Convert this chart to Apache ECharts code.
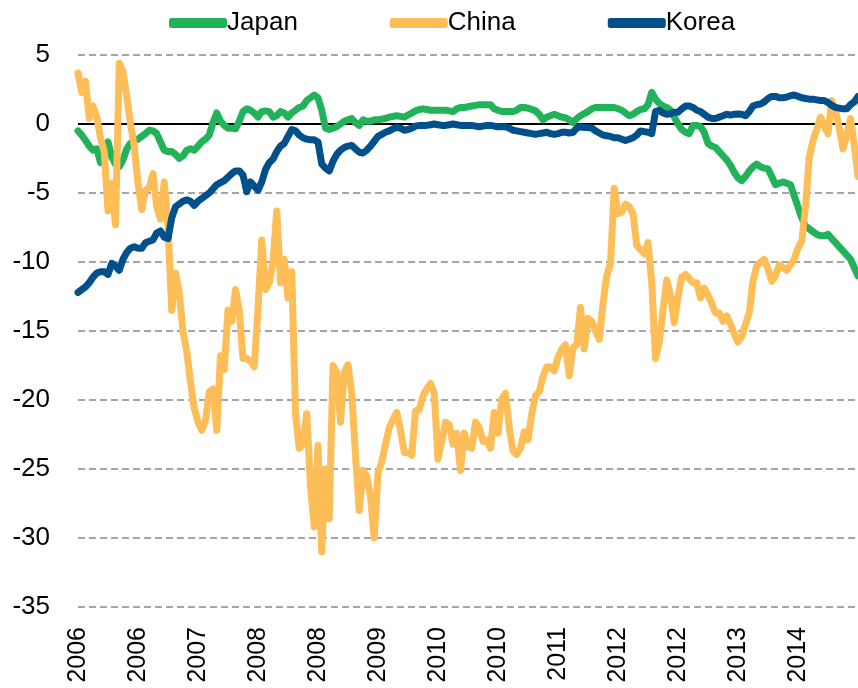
<!DOCTYPE html>
<html>
<head>
<meta charset="utf-8">
<script src="https://cdn.jsdelivr.net/npm/echarts@6/dist/echarts.min.js"></script>
<style>
  html, body { margin: 0; padding: 0; background: #fff; }
  #chart { width: 858px; height: 688px; }
</style>
</head>
<body>
<div id="chart"></div>
<script>
// half-monthly observations, Jan 2006 .. Sep 2014
var tickLabels = ['2006', '2006', '2007', '2008', '2008', '2009', '2010', '2010', '2011', '2012', '2012', '2013', '2014'];
var tickEvery = 16; // one label every 8 months

var japan = [
  -0.5, -0.8, -1.2, -1.6, -1.9, -1.8, -2.8, -2.0, -1.3, -2.4, -2.9, -3.1, -2.6, -1.8, -1.4, -1.2,
  -1.1, -0.9, -0.7, -0.45, -0.5, -0.7, -1.3, -1.9, -2.0, -2.0, -2.2, -2.5, -2.3, -1.9, -1.8, -1.9,
  -1.6, -1.3, -1.1, -0.8, 0.1, 0.8, 0.2, -0.1, -0.3, -0.3, -0.35, 0.2, 0.9, 1.1, 1.0, 0.8,
  0.5, 0.9, 0.95, 0.9, 0.5, 0.6, 0.9, 0.8, 0.5, 0.8, 1.0, 1.2, 1.3, 1.7, 1.9, 2.1,
  1.9, 1.0, -0.3, -0.4, -0.3, -0.2, 0.0, 0.2, 0.3, 0.4, 0.1, -0.1, 0.3, 0.2, 0.2, 0.3,
  0.3, 0.35, 0.4, 0.5, 0.55, 0.6, 0.55, 0.5, 0.65, 0.8, 0.95, 1.05, 1.1, 1.05, 1.0, 1.0,
  1.0, 1.0, 1.0, 0.95, 0.9, 1.1, 1.2, 1.2, 1.25, 1.3, 1.35, 1.4, 1.4, 1.4, 1.4, 1.1,
  1.0, 0.9, 0.9, 0.9, 0.9, 1.0, 1.2, 1.2, 1.15, 1.05, 0.95, 0.7, 0.3, 0.5, 0.6, 0.7,
  0.6, 0.5, 0.45, 0.3, 0.1, 0.4, 0.6, 0.75, 0.9, 1.1, 1.2, 1.2, 1.2, 1.2, 1.2, 1.2,
  1.1, 1.0, 0.8, 0.6, 0.7, 0.9, 1.05, 1.1, 1.4, 2.3, 1.8, 1.5, 1.3, 1.2, 1.0, 0.5,
  0.0, -0.4, -0.6, -0.7, -0.1, -0.1, -0.2, -0.6, -1.4, -1.6, -1.7, -2.0, -2.3, -2.6, -3.0, -3.5,
  -3.9, -4.1, -3.8, -3.4, -3.1, -2.9, -3.1, -3.2, -3.25, -3.8, -4.4, -4.3, -4.2, -4.3, -4.4, -5.2,
  -6.0, -6.8, -7.4, -7.6, -7.8, -8.0, -8.1, -8.1, -8.0, -8.3, -8.6, -8.9, -9.2, -9.5, -9.8, -10.4,
  -11.0
];

var china = [
  3.7, 2.3, 3.1, 0.4, 1.3, 0.5, -1.0, -2.0, -6.3, -4.3, -7.3, 4.4, 3.8, 2.0, 0.0, -1.6,
  -4.3, -6.2, -4.8, -4.6, -3.6, -6.0, -6.9, -4.2, -7.4, -13.5, -10.8, -12.2, -15.0, -16.5, -18.7, -20.6,
  -21.6, -22.2, -21.5, -19.4, -19.2, -22.2, -16.8, -17.8, -13.5, -14.3, -12.0, -13.5, -17.0, -17.0, -17.2, -17.6,
  -13.4, -8.4, -12.0, -11.5, -10.0, -6.3, -11.5, -9.8, -12.6, -10.7, -21.0, -23.5, -23.2, -21.0, -26.2, -29.2,
  -23.3, -31.0, -25.0, -28.6, -17.5, -18.0, -21.6, -18.0, -17.45, -19.5, -24.0, -28.0, -25.1, -25.5, -27.0, -30.0,
  -25.3, -24.5, -23.2, -22.0, -21.4, -20.9, -22.2, -23.8, -23.8, -24.0, -20.8, -20.7, -19.7, -19.2, -18.8, -19.5,
  -24.3, -23.0, -21.6, -21.8, -23.2, -22.4, -25.1, -22.4, -23.4, -23.5, -21.6, -22.0, -23.0, -22.9, -23.5, -20.9,
  -22.4, -19.9, -19.5, -22.0, -23.7, -23.95, -23.5, -22.3, -22.9, -21.0, -19.7, -19.4, -18.3, -17.6, -17.6, -17.9,
  -16.9, -16.3, -16.0, -18.25, -16.2, -16.0, -13.3, -16.3, -14.1, -14.3, -15.0, -15.6, -13.0, -11.0, -10.1, -4.65,
  -6.5, -6.4, -5.8, -6.0, -6.5, -8.8, -9.1, -9.4, -8.6, -11.5, -17.0, -15.8, -13.5, -11.3, -12.4, -14.4,
  -12.5, -11.1, -10.9, -11.2, -11.5, -11.5, -12.6, -11.9, -12.4, -13.0, -13.7, -13.7, -14.3, -13.9, -14.5, -15.2,
  -15.8, -15.4, -14.5, -13.7, -11.4, -10.3, -10.0, -9.8, -10.5, -11.4, -11.0, -10.2, -10.4, -10.6, -10.2, -9.8,
  -9.0, -8.5, -6.0, -2.4, -1.2, -0.4, 0.5, -0.2, -0.7, 1.7, 1.0, -0.3, -1.8, -0.8, 0.4, -1.5,
  -3.8
];

var korea = [
  -12.2, -12.0, -11.8, -11.5, -11.1, -10.8, -10.7, -10.7, -10.9, -10.1, -10.3, -10.6, -9.8, -9.3, -9.0, -8.9,
  -9.0, -9.0, -8.6, -8.5, -8.4, -7.9, -7.75, -8.2, -8.3, -6.8, -6.0, -5.8, -5.6, -5.5, -5.6, -5.9,
  -5.6, -5.4, -5.2, -5.0, -4.7, -4.4, -4.25, -4.1, -3.85, -3.6, -3.4, -3.4, -3.7, -4.9, -4.2, -4.5,
  -4.8, -4.2, -3.3, -2.8, -2.55, -2.0, -1.6, -1.4, -0.9, -0.4, -0.5, -0.8, -1.0, -1.1, -1.15, -1.15,
  -1.3, -2.9, -3.2, -3.4, -2.7, -2.2, -1.9, -1.7, -1.6, -1.55, -1.8, -2.05, -2.1, -1.9, -1.6, -1.25,
  -0.9, -0.75, -0.6, -0.5, -0.35, -0.25, -0.3, -0.45, -0.4, -0.3, -0.15, -0.1, -0.1, -0.1, -0.05, 0.0,
  -0.05, -0.1, -0.1, -0.05, 0.0, -0.05, -0.1, -0.1, -0.1, -0.1, -0.15, -0.2, -0.15, -0.1, -0.1, -0.15,
  -0.2, -0.2, -0.2, -0.3, -0.45, -0.5, -0.55, -0.6, -0.65, -0.7, -0.75, -0.7, -0.65, -0.6, -0.7, -0.75,
  -0.7, -0.6, -0.6, -0.65, -0.6, -0.3, -0.2, -0.25, -0.25, -0.3, -0.5, -0.65, -0.8, -0.85, -0.9, -1.0,
  -1.0, -1.1, -1.2, -1.1, -1.0, -0.8, -0.5, -0.55, -0.6, -0.7, 0.9, 1.0, 0.8, 0.7, 0.75, 0.85,
  0.85, 1.1, 1.3, 1.3, 1.2, 1.0, 0.9, 0.7, 0.5, 0.4, 0.4, 0.5, 0.6, 0.7, 0.65, 0.7,
  0.72, 0.7, 0.6, 0.9, 1.3, 1.4, 1.45, 1.6, 1.85, 2.0, 2.0, 1.9, 1.9, 1.95, 2.05, 2.1,
  2.0, 1.9, 1.85, 1.8, 1.8, 1.75, 1.7, 1.7, 1.55, 1.35, 1.2, 1.15, 1.1, 1.1, 1.4, 1.6,
  2.0
];

// category names for each half-month step
var periods = [];
for (var i = 0; i < japan.length; i++) {
  var m = Math.floor(i / 2);
  periods.push((2006 + Math.floor(m / 12)) + '-' + ((m % 12) + 1) + (i % 2 ? 'b' : 'a'));
}

var font = '"Liberation Sans", Arial, sans-serif';

var chart = echarts.init(document.getElementById('chart'), null, { renderer: 'canvas' });

function lineSeries(name, data, color, z) {
  return {
    name: name,
    type: 'line',
    data: data,
    symbol: 'none',
    z: z,
    lineStyle: { width: 7, color: color, cap: 'round', join: 'round' },
    itemStyle: { color: color }
  };
}

var series = [
  lineSeries('Japan', japan, '#22b35a', 3),
  lineSeries('China', china, '#fdbe57', 4),
  lineSeries('Korea', korea, '#01508b', 5)
];
// solid zero line
series[0].markLine = {
  silent: true,
  symbol: 'none',
  z: 1,
  label: { show: false },
  lineStyle: { color: '#000', width: 2, type: 'solid' },
  data: [{ yAxis: 0 }]
};

var option = {
  animation: false,
  textStyle: { fontFamily: font },
  legend: {
    top: 5,
    left: 164,
    icon: 'roundRect',
    itemWidth: 58,
    itemHeight: 10,
    itemGap: 92,
    textStyle: { fontSize: 26, color: '#000', fontFamily: font, padding: [0, 0, 0, -5] },
    data: ['Japan', 'China', 'Korea']
  },
  grid: { left: 78, right: 0, top: 55, bottom: 81, containLabel: false },
  xAxis: {
    type: 'category',
    data: periods,
    boundaryGap: false,
    axisLine: { show: false },
    axisTick: { show: false },
    splitLine: { show: false },
    axisLabel: {
      rotate: 90,
      margin: 20,
      fontSize: 25,
      color: '#000',
      fontFamily: font,
      interval: function (index) { return index % tickEvery === 0; },
      formatter: function (value, index) { return tickLabels[index / tickEvery]; }
    }
  },
  yAxis: {
    type: 'value',
    min: -35,
    max: 5,
    interval: 5,
    axisLine: { show: false },
    axisTick: { show: false },
    axisLabel: { fontSize: 26, color: '#000', margin: 28, fontFamily: font },
    splitLine: { lineStyle: { color: '#888', width: 1.5, type: [7, 4] } }
  },
  series: series
};

chart.setOption(option);
</script>
</body>
</html>
